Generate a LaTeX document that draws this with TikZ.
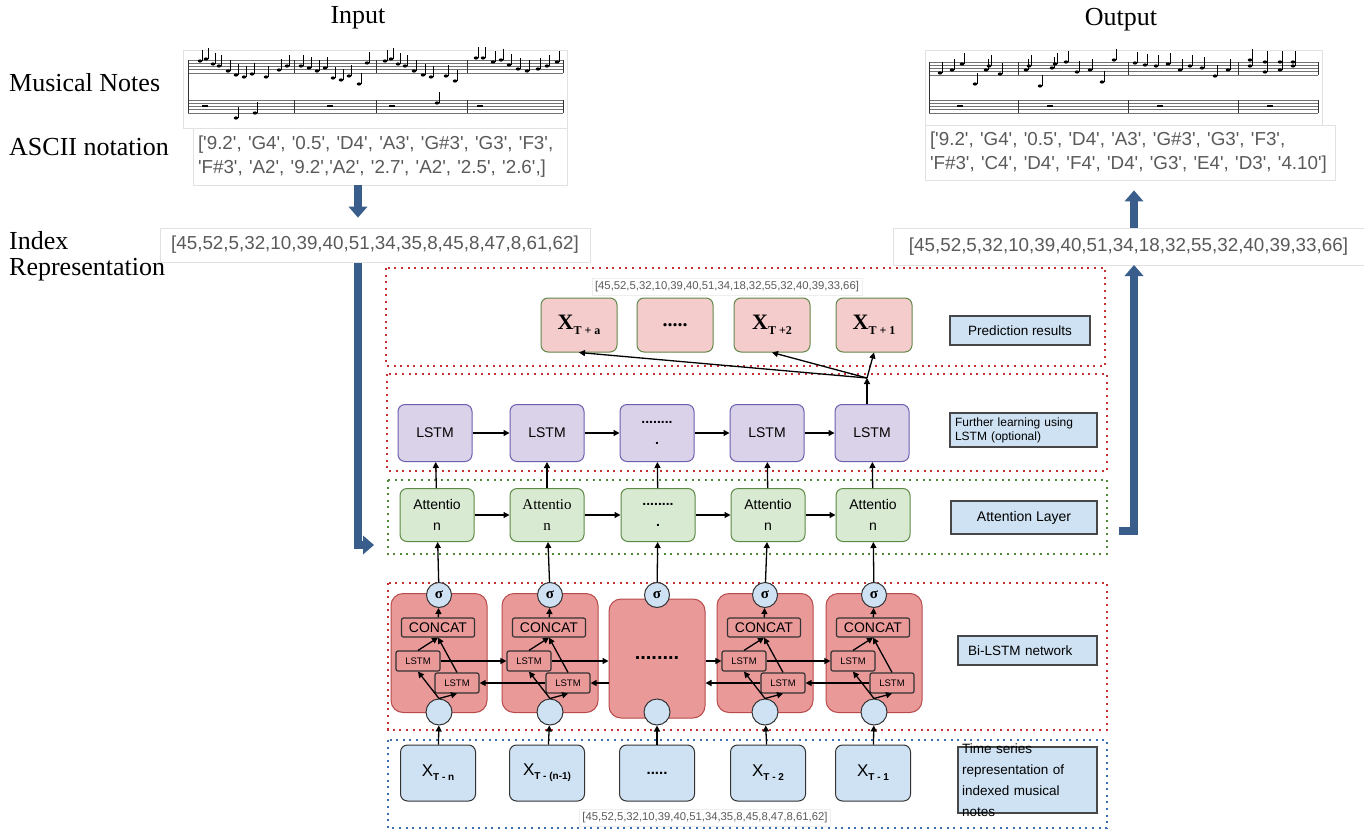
\documentclass[tikz,border=0pt]{standalone}
\usepackage{fontspec}
\setmainfont{Liberation Serif}
\setsansfont{Liberation Sans}
\usepackage{tikz}
\usetikzlibrary{calc,arrows.meta,positioning}
\definecolor{flow}{HTML}{3A5E8C}
\definecolor{txtgrey}{HTML}{5A5A5A}
\definecolor{paper}{HTML}{E2E2E2}
\definecolor{predfill}{HTML}{F4CCCC}
\definecolor{preddraw}{HTML}{62884A}
\definecolor{lstmfill}{HTML}{D9D2E9}
\definecolor{lstmdraw}{HTML}{6E5EAE}
\definecolor{attfill}{HTML}{D9EAD3}
\definecolor{attdraw}{HTML}{5C8A44}
\definecolor{cellfill}{HTML}{EA9999}
\definecolor{celldraw}{HTML}{B84A4A}
\definecolor{tagfill}{HTML}{CFE2F3}
\definecolor{ink}{HTML}{333333}
\definecolor{dotred}{HTML}{C63030}
\definecolor{dotgreen}{HTML}{4F8A3A}
\definecolor{dotblue}{HTML}{3A6EB5}
\newcommand{\sq}{\textquotesingle}
\newcommand{\fsz}[2]{\fontsize{#1}{#2}\selectfont}
\newcommand{\predX}[1]{{\fsz{22}{22}\bfseries X\raisebox{-5pt}{\fsz{12}{12}#1}}}
\newcommand{\inX}[1]{{\sffamily\fsz{17}{17}X\raisebox{-4pt}{\fsz{10}{10}\bfseries #1}}}
\tikzset{
  lab/.style={inner sep=0pt, font=\fsz{26}{28}},
  arr/.style={inner sep=0pt, text=txtgrey, font=\sffamily\fsz{18.8}{24}},
  paperbox/.style={draw=paper, fill=white, line width=0.8pt},
  staff/.style={draw=black!55, line width=0.5pt},
  bar/.style={draw=black!80, line width=0.7pt},
  stem/.style={draw=black, line width=0.7pt},
  layer/.style={line width=2pt, dash pattern=on 2pt off 4.6pt},
  box/.style={rounded corners=7pt, line width=1pt, minimum width=75pt, minimum height=56pt, inner sep=0pt, align=center},
  predbox/.style={box, fill=predfill, draw=preddraw, minimum width=76pt, minimum height=54pt},
  lstmbox/.style={box, fill=lstmfill, draw=lstmdraw, minimum width=74pt, minimum height=57pt, font=\sffamily\fsz{14}{21}},
  attbox/.style={box, fill=attfill, draw=attdraw, minimum width=74pt, minimum height=53pt, font=\sffamily\fsz{14}{21}},
  inbox/.style={box, fill=tagfill, draw=ink},
  cell/.style={rounded corners=12pt, fill=cellfill, draw=celldraw, line width=1pt, minimum width=96pt, minimum height=119pt, inner sep=0pt},
  part/.style={rounded corners=2pt, fill=cellfill, draw=ink, line width=1.2pt, inner sep=0pt},
  concat/.style={part, minimum width=73pt, minimum height=19pt, font=\sffamily\fsz{14}{14}},
  minilstm/.style={part, minimum width=44pt, minimum height=20pt, font=\sffamily\fsz{9.5}{10}},
  sig/.style={circle, fill=tagfill, draw=ink, line width=1pt, minimum size=25pt, inner sep=0pt, font=\bfseries\fsz{15}{15}},
  ring/.style={circle, fill=tagfill, draw=ink, line width=1pt, minimum size=26pt, inner sep=0pt},
  tag/.style={fill=tagfill, draw=ink!90, line width=1.3pt, inner sep=0pt, font=\sffamily},
  conn/.style={-{Triangle[length=6pt,width=6pt]}, line width=1.3pt},
  fat/.style={draw=flow, line width=8pt, line join=miter, -{Triangle[length=11pt,width=19pt,line width=0pt]}},
}

\begin{document}
\begin{tikzpicture}[x=1pt, y=-1pt]
  \useasboundingbox (0,0) rectangle (1364,832);
  \fill[white] (0,0) rectangle (1364,832);

  \node[lab] (hdrIn) at (358,18) {Input};
  \node[lab] (hdrOut) at (1121,20) {Output};
  \node[lab, anchor=west] (rowNotes) at (9,83) {Musical Notes};
  \node[lab, anchor=west] (rowAscii) at (9,147) {ASCII notation};
  \node[lab, anchor=west] (rowIdx) at (9,241) {Index};
  \node[lab, anchor=west] (rowRep) at (9,270) {Representation};

  % score sheets
  \draw[paperbox] (183,50) rectangle (567,128);
  \draw[paperbox] (925,50) rectangle (1322,125);
  \foreach \y in {0,3.2,6.4,9.6,12.8} {
    \draw[staff] (188,60+\y) -- (563,60+\y);
    \draw[staff] (188,100+\y) -- (563,100+\y);
    \draw[staff] (929,62+\y) -- (1318,62+\y);
    \draw[staff] (929,100+\y) -- (1318,100+\y);
  }
  \foreach \x in {188,294,376,467,563}
    \draw[bar] (\x,60) -- (\x,72.8) (\x,100) -- (\x,112.8);
  \draw[bar] (188,60) -- (188,112.8);
  \foreach \x in {929,1018,1128,1238,1318}
    \draw[bar] (\x,62) -- (\x,74.8) (\x,100) -- (\x,112.8);
  \draw[bar] (929,62) -- (929,112.8);
  \foreach \x/\y in {200/61,206/59,213/64,219/66,228/71,236/75,244/77,252/74,266/77,279/70,287/66,
                     301/66,309/68,317/71,325/68,333/78,341/80,349/76,359/84,367/63,
                     385/61,391/59,398/64,405/66,414/71,423/75,431/77,446/76,455/81,
                     476/58,483/58,493/62,501/60,509/65,518/69,527/71,538/69,547/66,557/62,
                     236/118,255/113,437/103,
                     940/73,952/70,962/64,975/84,986/70,989/66,1000/74,
                     1026/70,1029/66,1040/86,1052/68,1055/64,1066/62,1077/72,1090/70,1102/82,1114/60,
                     1135/63,1145/65,1156/66,1168/64,1180/70,1190/66,1202/68,1215/76,1228/70,
                     1250/60,1250/66,1265/62,1265/72,1280/62,1280/70,1293/62,1293/66} {
    \fill (\x,\y) ellipse (2.3 and 1.6);
    \draw[stem] (\x+2,\y) -- (\x+2,\y-11);
  }
  \foreach \x in {205,330,392,480,960,1050,1160,1270}
    \fill (\x-3,105.5) rectangle (\x+3,107.5);

  % ascii and index strings
  \node[paperbox, arr, minimum width=374pt, minimum height=57pt, text width=364pt, align=left, inner xsep=5pt] (asciiIn) at (380,156.5)
    {[\sq9.2\sq, \sq G4\sq, \sq0.5\sq, \sq D4\sq, \sq A3\sq, \sq G\#3\sq, \sq G3\sq, \sq F3\sq,\\
     \sq F\#3\sq, \sq A2\sq, \sq9.2\sq,\sq A2\sq, \sq2.7\sq, \sq A2\sq, \sq2.5\sq, \sq2.6\sq,]};
  \node[paperbox, arr, minimum width=410pt, minimum height=55pt, text width=400pt, align=left, inner xsep=5pt] (asciiOut) at (1130,152.5)
    {[\sq9.2\sq, \sq G4\sq, \sq0.5\sq, \sq D4\sq, \sq A3\sq, \sq G\#3\sq, \sq G3\sq, \sq F3\sq,\\
     \sq F\#3\sq, \sq C4\sq, \sq D4\sq, \sq F4\sq, \sq D4\sq, \sq G3\sq, \sq E4\sq, \sq D3\sq, \sq4.10\sq]};
  \node[paperbox, arr, minimum width=430pt, minimum height=34pt] (idxIn) at (375,245)
    {[45,52,5,32,10,39,40,51,34,35,8,45,8,47,8,61,62]};
  \node[paperbox, arr, minimum width=471pt, minimum height=37pt] (idxOut) at (1128.5,246.5)
    {[45,52,5,32,10,39,40,51,34,18,32,55,32,40,39,33,66]};

  % dotted layers
  \draw[layer, draw=dotred] (386,268) rectangle (1105,366);
  \draw[layer, draw=dotred] (387,374) rectangle (1107,471);
  \draw[layer, draw=dotgreen] (388,480) rectangle (1107,554);
  \draw[layer, draw=dotred] (388,583) rectangle (1107,730);
  \draw[layer, draw=dotblue] (388,740) rectangle (1107,828);

  \node[paperbox, draw=paper!60, arr, font=\sffamily\fsz{11.3}{12}, inner sep=3pt] (idxTop) at (727,287)
    {[45,52,5,32,10,39,40,51,34,18,32,55,32,40,39,33,66]};
  \node[paperbox, draw=paper!60, arr, font=\sffamily\fsz{11.3}{12}, inner sep=3pt] (idxBot) at (705,818)
    {[45,52,5,32,10,39,40,51,34,35,8,45,8,47,8,61,62]};

  % predictions
  \node[predbox] (predA) at (579,325) {\predX{T + a}};
  \node[predbox, font=\bfseries\fsz{20}{20}] (predDots) at (675,325) {.....};
  \node[predbox] (predTwo) at (772,325) {\predX{T +2}};
  \node[predbox] (predOne) at (874,325) {\predX{T + 1}};

  % further lstm
  \node[lstmbox] (lstm1) at (435,433) {LSTM};
  \node[lstmbox] (lstm2) at (547,433) {LSTM};
  \node[lstmbox] (lstm3) at (657,433) {\textbf{........}\\\textbf{.}};
  \node[lstmbox] (lstm4) at (767,433) {LSTM};
  \node[lstmbox] (lstm5) at (872,433) {LSTM};

  % attention
  \node[attbox] (att1) at (437,515) {Attentio\\n};
  \node[attbox, font=\rmfamily\fsz{15}{21}] (att2) at (547,515) {Attentio\\n};
  \node[attbox] (att3) at (658,515) {\textbf{........}\\\textbf{.}};
  \node[attbox] (att4) at (768,515) {Attentio\\n};
  \node[attbox] (att5) at (873,515) {Attentio\\n};

  % bi-lstm cells
  \foreach \i/\cx in {1/439,2/550,4/765,5/874} {
    \node[cell] (cell\i) at (\cx,653) {};
    \node[concat] (cat\i) at (\cx-1,627.5) {CONCAT};
    \node[minilstm] (fw\i) at (\cx-21,661) {LSTM};
    \node[minilstm] (bw\i) at (\cx+18,683) {LSTM};
  }
  \node[cell, font=\sffamily\bfseries\fsz{20}{20}] (cell3) at (657,658.5) {........};
  \foreach \i/\cx in {1/439,2/550,3/657,4/765,5/874} {
    \node[sig] (sig\i) at (\cx,595) {σ};
    \node[ring] (ring\i) at (\cx,712) {};
  }

  % time series inputs
  \node[inbox] (in1) at (438,773) {\inX{T - n}};
  \node[inbox] (in2) at (547,773) {\inX{T - (n-1)}};
  \node[inbox, font=\sffamily\bfseries\fsz{15}{15}] (in3) at (657,773) {.....};
  \node[inbox] (in4) at (768,773) {\inX{T - 2}};
  \node[inbox] (in5) at (873,773) {\inX{T - 1}};

  % layer tags
  \node[tag, minimum width=140pt, minimum height=29pt, font=\sffamily\fsz{13.5}{14}] (tagPred) at (1020,330.5) {Prediction results};
  \node[tag, minimum height=34pt, text width=137pt, inner xsep=5pt, align=left, font=\sffamily\fsz{12}{14}] (tagLstm) at (1023.5,430) {Further learning using\\LSTM (optional)};
  \node[tag, minimum width=146pt, minimum height=33pt, font=\sffamily\fsz{14}{14}] (tagAtt) at (1024,517.5) {Attention Layer};
  \node[tag, minimum height=29pt, text width=119pt, inner xsep=10pt, align=left, font=\sffamily\fsz{13.5}{14}] (tagBi) at (1027.5,650.5) {Bi-LSTM network};
  \node[tag, minimum width=139pt, minimum height=66pt] (tagIn) at (1027.5,780) {};
  \node[inner sep=0pt, text width=131pt, align=left, font=\sffamily\fsz{13.5}{21}] (tagInTxt) at (tagIn) {Time series\\representation of\\indexed musical\\notes};

  % connectors
  \foreach \i in {1,...,5} {
    \draw[conn] (in\i) -- (ring\i);
    \draw[conn] (sig\i) -- (att\i);
    \draw[conn] (att\i) -- (lstm\i);
  }
  \foreach \i [count=\j from 2] in {1,...,4} {
    \draw[conn] (lstm\i) -- (lstm\j);
    \draw[conn] (att\i) -- (att\j);
  }
  \foreach \i in {1,2,4,5} {
    \draw[conn] (ring\i.north) -- (fw\i.south);
    \draw[conn] (ring\i.north) -- (bw\i.south);
    \draw[conn] (fw\i.north) -- (cat\i.south);
    \draw[conn] (bw\i.north) -- (cat\i.south);
    \draw[conn] (cat\i) -- (sig\i);
  }
  \draw[conn] (fw1.east) -- (fw2.west);
  \draw[conn] (fw2.east) -- (fw2.east -| cell3.west);
  \draw[conn] (fw4.west -| cell3.east) -- (fw4.west);
  \draw[conn] (fw4.east) -- (fw5.west);
  \draw[conn] (bw2.west) -- (bw1.east);
  \draw[conn] (bw2.east -| cell3.west) -- (bw2.east);
  \draw[conn] (bw4.west) -- (bw4.west -| cell3.east);
  \draw[conn] (bw5.west) -- (bw4.east);

  \coordinate (fan) at ([xshift=-5pt,yshift=26pt]lstm5.north);
  \draw[conn] ([xshift=-5pt]lstm5.north) -- (fan);
  \draw[conn] (fan) -- (predOne.south);
  \draw[conn] (fan) -- (predTwo.south);
  \draw[conn] (fan) -- (predA.south);

  % big flow arrows
  \coordinate (inTip) at (374,545);
  \coordinate (outTail) at (1119,531);
  \coordinate (outTip) at (1134,265);
  \draw[fat] (hdrIn |- asciiIn.south) -- ($(hdrIn |- idxIn.north)+(0,-10)$);
  \draw[fat] ([yshift=-1pt]hdrIn |- idxIn.south) -- (hdrIn |- inTip) -- (inTip);
  \draw[fat] (outTail) -- (outTip |- outTail) -- (outTip);
  \draw[fat] (outTip |- idxOut.north) -- ($(outTip |- asciiOut.south)+(0,10)$);
\end{tikzpicture}
\end{document}
